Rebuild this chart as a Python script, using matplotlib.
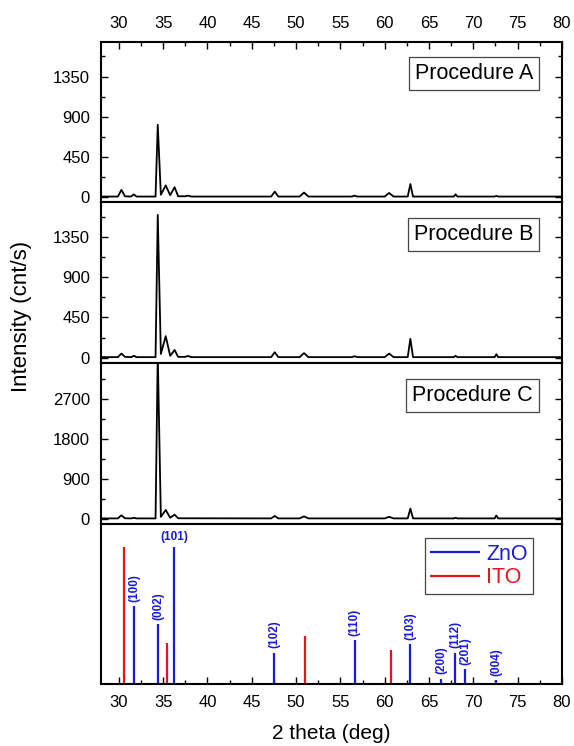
import numpy as np
import matplotlib
matplotlib.use("Agg")
import matplotlib.pyplot as plt
from matplotlib.ticker import MultipleLocator

plt.rcParams['font.family'] = ['Liberation Sans', 'DejaVu Sans']

# ── 측정 패턴 (꼭짓점 판독값: 2theta, intensity) ─────────────────────
tt_a = [28.0, 29.9, 30.3, 30.7, 31.4, 31.7, 32.0, 34.15, 34.4, 34.75, 35.3, 35.8,
        36.3, 36.7, 37.5, 37.8, 38.2, 47.2, 47.6, 48.0, 50.4, 50.9, 51.4, 56.3,
        56.6, 56.9, 60.0, 60.5, 61.0, 62.6, 62.9, 63.2, 67.8, 68.0, 68.2, 72.4,
        72.6, 72.8, 80.0]
int_a = [5, 5, 80, 8, 5, 30, 5, 5, 810, 25, 130, 20,
         110, 8, 8, 15, 5, 5, 60, 5, 5, 50, 5, 5,
         15, 5, 5, 45, 5, 5, 145, 5, 5, 30, 5, 5,
         12, 5, 5]

tt_b = [28.0, 29.9, 30.3, 30.7, 31.4, 31.7, 32.0, 34.15, 34.4, 34.75, 35.3, 35.8,
        36.3, 36.7, 37.5, 37.8, 38.2, 47.2, 47.6, 48.0, 50.4, 50.9, 51.4, 56.3,
        56.6, 56.9, 60.0, 60.5, 61.0, 62.6, 62.9, 63.2, 67.8, 68.0, 68.2, 72.4,
        72.6, 72.8, 80.0]
int_b = [5, 5, 45, 8, 5, 20, 5, 5, 1600, 40, 240, 20,
         85, 8, 8, 18, 5, 5, 60, 5, 5, 50, 5, 5,
         15, 5, 5, 45, 5, 5, 210, 5, 5, 20, 5, 5,
         37, 5, 5]

tt_c = [28.0, 29.9, 30.3, 30.7, 31.4, 31.7, 32.0, 34.15, 34.4, 34.75, 35.3, 35.8,
        36.3, 36.7, 47.2, 47.6, 48.0, 50.4, 50.9, 51.4, 60.0, 60.5, 61.0, 62.6,
        62.9, 63.2, 67.8, 68.0, 68.2, 72.4, 72.6, 72.8, 80.0]
int_c = [5, 5, 75, 8, 5, 20, 5, 5, 3700, 40, 195, 20,
         90, 8, 5, 60, 5, 5, 50, 5, 5, 40, 5, 5,
         225, 5, 5, 20, 5, 5, 70, 5, 5]

# ── 표준 피크 (상대 강도) ─────────────────────────────────────────
zno_pos = [31.77, 34.42, 36.25, 47.54, 56.60, 62.86, 66.38, 67.96, 69.10, 72.56]
zno_int = [57, 44, 100, 23, 32, 29, 4, 23, 11, 3]
zno_hkl = ['(100)', '(002)', '(101)', '(102)', '(110)', '(103)', '(200)', '(112)', '(201)', '(004)']
ito_pos = [30.58, 35.47, 51.04, 60.68]
ito_int = [100, 30, 35, 25]

panels = [
    (tt_a, int_a, 'Procedure A', (-60, 1740), [0, 450, 900, 1350], 225),
    (tt_b, int_b, 'Procedure B', (-60, 1740), [0, 450, 900, 1350], 225),
    (tt_c, int_c, 'Procedure C', (-110, 3510), [0, 900, 1800, 2700], 450),
]

BLUE = '#1a1adc'
RED = '#e8141c'

fig = plt.figure(figsize=(5.74, 7.46), dpi=100)
gs = fig.add_gridspec(4, 1, left=0.176, right=0.979, top=0.944, bottom=0.083, hspace=0)
axes = [fig.add_subplot(gs[i]) for i in range(4)]

for i, (ax, (x, y, name, ylim, yt, ymin)) in enumerate(zip(axes[:3], panels)):
    ax.plot(x, y, color='black', lw=1.3)
    ax.set_xlim(28, 80)
    ax.set_ylim(*ylim)
    ax.set_yticks(yt)
    ax.yaxis.set_minor_locator(MultipleLocator(ymin))
    ax.text(0.937, 0.80, name, transform=ax.transAxes, ha='right', va='center', fontsize=15.5,
            bbox=dict(boxstyle='square,pad=0.28', fc='white', ec='#444444', lw=0.9))
    ax.tick_params(axis='y', which='both', direction='in', left=True, right=True,
                   labelsize=12, pad=8)
    ax.tick_params(axis='y', which='major', length=5, width=1)
    ax.tick_params(axis='y', which='minor', length=3, width=1)
    if i == 0:
        ax.xaxis.set_major_locator(MultipleLocator(5))
        ax.xaxis.set_minor_locator(MultipleLocator(2.5))
        ax.tick_params(axis='x', which='both', direction='in', top=True, bottom=False,
                       labeltop=True, labelbottom=False, labelsize=12, pad=8)
        ax.tick_params(axis='x', which='major', length=5, width=1)
        ax.tick_params(axis='x', which='minor', length=3, width=1)
    else:
        ax.tick_params(axis='x', which='both', top=False, bottom=False,
                       labeltop=False, labelbottom=False)
    for s in ax.spines.values():
        s.set_linewidth(1.5)

# 표준 피크 패널
axd = axes[3]
axd.vlines(ito_pos, 0, ito_int, color=RED, lw=1.6, label='ITO')
axd.vlines(zno_pos, 0, zno_int, color=BLUE, lw=1.6, label='ZnO')
for p, h, lab in zip(zno_pos, zno_int, zno_hkl):
    if lab == '(101)':
        axd.text(p, h + 3, lab, color=BLUE, fontsize=8.5, fontweight='bold',
                 ha='center', va='bottom')
    else:
        axd.text(p, h + 3, lab, color=BLUE, fontsize=8.5, fontweight='bold',
                 ha='center', va='bottom', rotation=90)
axd.set_xlim(28, 80)
axd.set_ylim(0, 117)
axd.set_yticks([])
axd.xaxis.set_major_locator(MultipleLocator(5))
axd.xaxis.set_minor_locator(MultipleLocator(2.5))
axd.tick_params(axis='x', which='both', direction='in', top=False, bottom=True,
                labelsize=12, pad=8)
axd.tick_params(axis='x', which='major', length=5, width=1)
axd.tick_params(axis='x', which='minor', length=3, width=1)
for s in axd.spines.values():
    s.set_linewidth(1.5)
handles, labels = axd.get_legend_handles_labels()
leg = axd.legend(handles[::-1], labels[::-1], loc='upper right', fontsize=15.5,
                 bbox_to_anchor=(0.937, 0.907), borderaxespad=0, handlelength=2.3,
                 handletextpad=0.3, borderpad=0.25, labelspacing=0.12, fancybox=False,
                 edgecolor='#444444', framealpha=1)
leg.get_frame().set_linewidth(0.9)
for t, c in zip(leg.get_texts(), [BLUE, RED]):
    t.set_color(c)

axd.set_xlabel('2 theta (deg)', fontsize=15, labelpad=10)
fig.text(0.037, 0.576, 'Intensity (cnt/s)', rotation=90, ha='center', va='center', fontsize=16)

fig.savefig('out.png', dpi=100)
